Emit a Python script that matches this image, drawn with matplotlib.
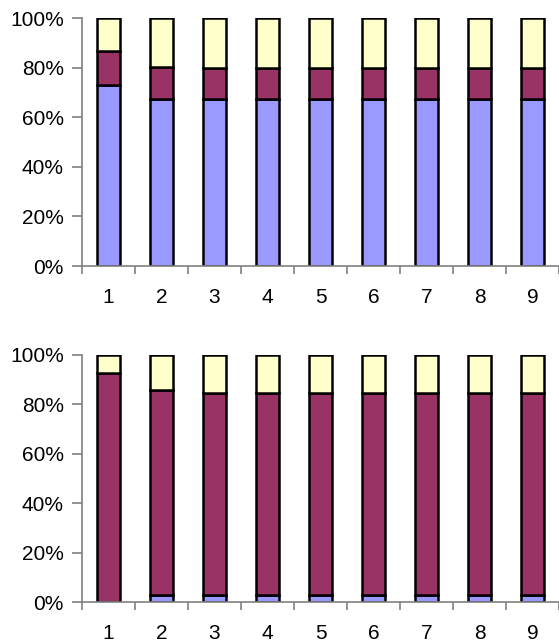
import matplotlib
matplotlib.use("Agg")
import matplotlib.pyplot as plt
import numpy as np

categories = ["1", "2", "3", "4", "5", "6", "7", "8", "9"]

top_blue = [73.0, 67.5, 67.5, 67.5, 67.5, 67.5, 67.5, 67.5, 67.5]
top_purple = [13.7, 12.9, 12.2, 12.2, 12.2, 12.2, 12.2, 12.2, 12.2]
top_yellow = [100 - a - b for a, b in zip(top_blue, top_purple)]

bot_blue = [0.0, 3.0, 3.0, 3.0, 3.0, 3.0, 3.0, 3.0, 3.0]
bot_purple = [92.6, 83.0, 81.6, 81.6, 81.6, 81.6, 81.6, 81.6, 81.6]
bot_yellow = [100 - a - b for a, b in zip(bot_blue, bot_purple)]

yticks = [0, 20, 40, 60, 80, 100]
ytick_labels = ["0%", "20%", "40%", "60%", "80%", "100%"]

colors = ["#9999FF", "#993366", "#FFFFCC"]

plt.rcParams['font.family'] = ['Liberation Sans', 'DejaVu Sans']

fig = plt.figure(figsize=(5.59, 6.43), dpi=100)
ax1 = fig.add_axes([82/559, 377/643, 1 - 82/559, 248/643])
ax2 = fig.add_axes([82/559, 41/643, 1 - 82/559, 247/643])

def draw(ax, series):
    x = np.arange(len(categories))
    bottom = np.zeros(len(categories))
    for vals, c in zip(series, colors):
        vals = np.array(vals)
        ax.bar(x, vals, bottom=bottom, width=0.43, color=c,
               edgecolor="black", linewidth=1.8)
        bottom += vals
    ax.set_xlim(-0.5, len(categories) - 0.5)
    ax.set_ylim(0, 100)
    ax.set_yticks(yticks)
    ax.set_yticklabels(ytick_labels)
    ax.set_xticks(x)
    ax.set_xticklabels(categories)
    ax.set_xticks(np.arange(len(categories) + 1) - 0.5, minor=True)
    ax.tick_params(axis='x', which='major', length=0, pad=16, labelsize=15)
    ax.tick_params(axis='x', which='minor', length=6, direction='out',
                   color='#808080', width=1.2)
    ax.tick_params(axis='y', length=7, direction='out', color='#808080',
                   width=1.2, labelsize=15, pad=6)
    for s in ['top', 'right']:
        ax.spines[s].set_visible(False)
    for s in ['left', 'bottom']:
        ax.spines[s].set_color('#808080')
        ax.spines[s].set_linewidth(1.2)

draw(ax1, [top_blue, top_purple, top_yellow])
draw(ax2, [bot_blue, bot_purple, bot_yellow])

fig.savefig("out.png", dpi=100)
